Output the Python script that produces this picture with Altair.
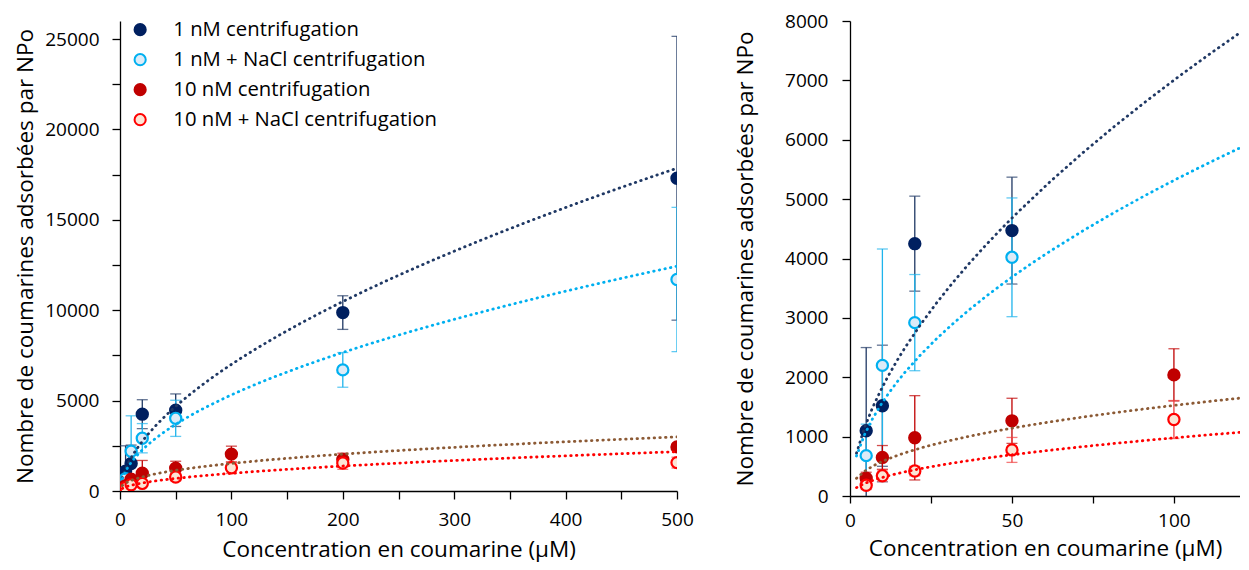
import altair as alt
import pandas as pd

FONT = "Open Sans"

series_names = [
    "1 nM centrifugation",
    "1 nM + NaCl centrifugation",
    "10 nM centrifugation",
    "10 nM + NaCl centrifugation",
]

# 1 nM centrifugation
nav_x = [5, 10, 20, 50, 200, 500]
nav_y = [1100, 1520, 4250, 4470, 9870, 17300]
nav_err = [1400, 1020, 800, 900, 930, 7850]

# 1 nM + NaCl centrifugation
lb_x = [5, 10, 20, 50, 200, 500]
lb_y = [680, 2200, 2920, 4020, 6700, 11700]
lb_err = [530, 1960, 810, 1000, 960, 3990]

# 10 nM centrifugation
red_x = [5, 10, 20, 50, 100, 200, 500]
red_y = [300, 650, 980, 1266, 2040, 1750, 2440]
red_err = [100, 200, 710, 380, 440, 340, 150]

# 10 nM + NaCl centrifugation
ored_x = [5, 10, 20, 50, 100, 200, 500]
ored_y = [180, 340, 420, 776, 1288, 1550, 1570]
ored_err = [70, 100, 80, 210, 320, 350, 300]

fill_range = ["#002060", "#DDEBF7", "#C00000", "#FBE5D6"]
stroke_range = ["#002060", "#00B0F0", "#C00000", "#FF0000"]
err_range = ["#1F3864", "#1FB4EC", "#C00000", "#F04040"]
trend_range = ["#1F3864", "#00B0F0", "#8C5A35", "#FF0000"]

rows = []
for name, xs, ys, es in zip(
    series_names,
    [nav_x, lb_x, red_x, ored_x],
    [nav_y, lb_y, red_y, ored_y],
    [nav_err, lb_err, red_err, ored_err],
):
    for xv, yv, ev in zip(xs, ys, es):
        rows.append({"series": name, "conc": xv, "val": yv, "lo": yv - ev, "hi": yv + ev})
df = pd.DataFrame(rows)

XTITLE = "Concentration en coumarine (μM)"
YTITLE = "Nombre de coumarines adsorbées par NPo"


def panel(xdom, ydom, w, h, xaxis, yaxis, legend):
    base = alt.Chart(df)

    def X(field):
        return alt.X(f"{field}:Q", scale=alt.Scale(domain=xdom, nice=False, zero=False), axis=xaxis, title=XTITLE)

    def Y(field):
        return alt.Y(f"{field}:Q", scale=alt.Scale(domain=ydom, nice=False, zero=False), axis=yaxis, title=YTITLE)

    errs = []
    for s, c in zip(series_names, err_range):
        sb = base.transform_filter(alt.datum.series == s)
        errs.append(sb.mark_rule(strokeWidth=1.3, color=c, clip=True).encode(x=X("conc"), y=Y("lo"), y2="hi:Q"))
        errs.append(
            sb.mark_tick(orient="horizontal", size=11, thickness=1.3, color=c, clip=True).encode(x=X("conc"), y=Y("hi"))
        )
        errs.append(
            sb.mark_tick(orient="horizontal", size=11, thickness=1.3, color=c, clip=True).encode(x=X("conc"), y=Y("lo"))
        )
    pts = base.mark_circle(size=125, opacity=1, strokeWidth=2.2, clip=True).encode(
        x=X("conc"),
        y=Y("val"),
        fill=alt.Fill("series:N", scale=alt.Scale(domain=series_names, range=fill_range), legend=legend),
        stroke=alt.Stroke("series:N", scale=alt.Scale(domain=series_names, range=stroke_range), legend=legend),
    )
    lines = []
    for s, c in zip(series_names, trend_range):
        lines.append(
            base.transform_filter(alt.datum.series == s)
            .transform_regression("conc", "val", method="pow", extent=[2, 500])
            .mark_line(strokeDash=[0.5, 5.2], strokeCap="round", strokeWidth=2.8, color=c, clip=True)
            .encode(x=X("conc"), y=Y("val"))
        )
    return alt.layer(*errs, pts, *lines).properties(width=w, height=h)


axis_common = dict(
    grid=False,
    domainColor="#000000",
    domainWidth=1.3,
    tickColor="#000000",
    tickWidth=1.3,
    labelColor="#000000",
    titleColor="#000000",
    labelFont=FONT,
    titleFont=FONT,
    labelFontSize=19,
    titleFontSize=22.5,
    titleFontWeight="normal",
    format="d",
)

left_x = alt.Axis(
    values=list(range(0, 501, 50)),
    labelExpr="datum.value % 100 === 0 ? datum.label : ''",
    tickSize=8, labelPadding=11, titlePadding=9, labelFlush=False, **axis_common,
)
left_y = alt.Axis(
    values=list(range(0, 25001, 2500)),
    labelExpr="datum.value % 5000 === 0 ? datum.label : ''",
    tickSize=8, labelPadding=13, titlePadding=7, **axis_common,
)
right_x = alt.Axis(
    values=[0, 25, 50, 75, 100],
    labelExpr="datum.value % 50 === 0 ? datum.label : ''",
    tickSize=7, labelPadding=8, titlePadding=7, labelFlush=False, **axis_common,
)
right_y = alt.Axis(
    values=list(range(0, 8001, 1000)),
    tickSize=8, labelPadding=14, titlePadding=27, **axis_common,
)

legend = alt.Legend(
    orient="none",
    legendX=10,
    legendY=-1.5,
    title=None,
    symbolType="circle",
    symbolSize=125,
    symbolStrokeWidth=2,
    labelFont=FONT,
    labelFontSize=20.3,
    labelColor="#000000",
    labelOffset=23,
    labelLimit=500,
    rowPadding=9,
    padding=0,
)

left = panel([0, 500], [0, 26000], 557, 470, left_x, left_y, legend)
right = panel([0, 120.4], [0, 8000], 390, 475, right_x, right_y, None)

chart = (
    alt.hconcat(left, right, spacing=173, bounds="flush")
    .resolve_scale(x="independent", y="independent", fill="independent", stroke="independent")
    .resolve_legend(fill="independent", stroke="independent")
    .properties(padding={"left": 6, "top": 4, "right": 0, "bottom": 2})
    .configure_view(stroke=None)
)

chart.save("out.html", embed_options={"renderer": "svg", "actions": False})
